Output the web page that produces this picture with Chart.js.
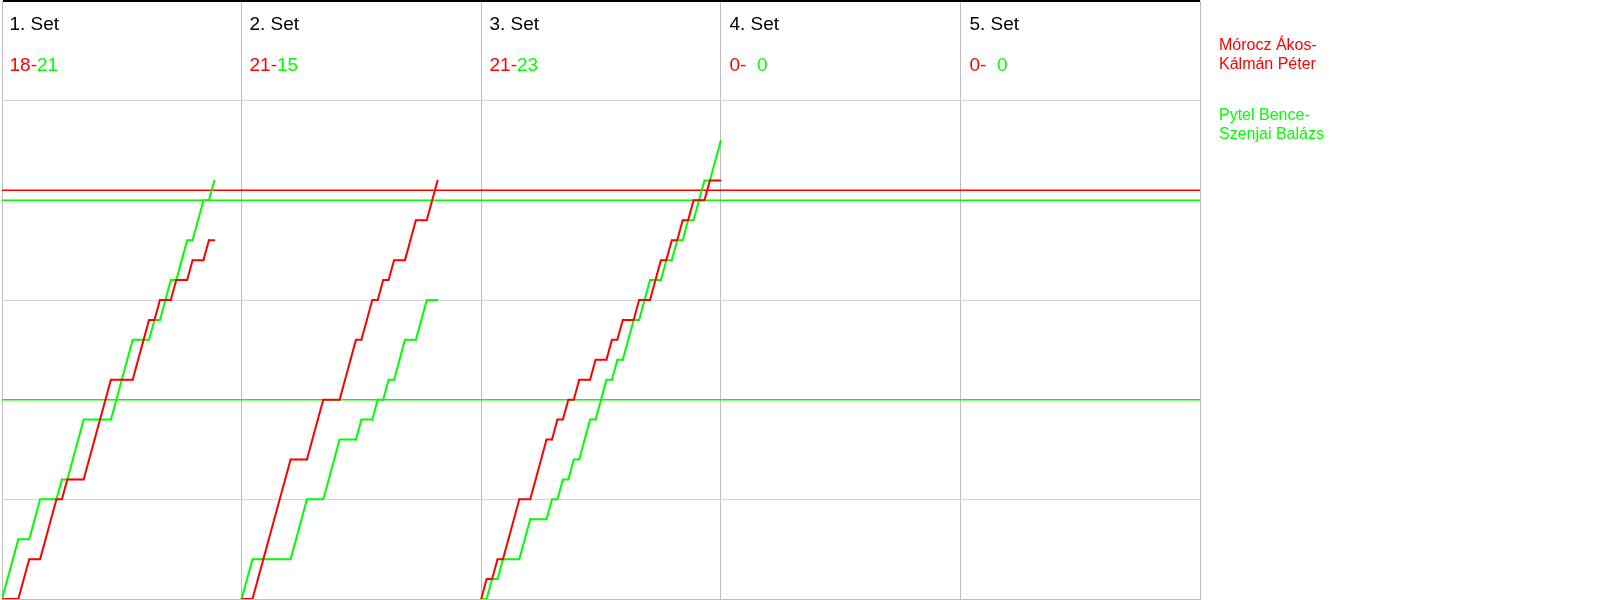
<!DOCTYPE html>
<html>
<head>
<meta charset="utf-8">
<script src="https://cdn.jsdelivr.net/npm/chart.js@4.4.0/dist/chart.umd.min.js"></script>
<style>
  body { margin: 0; background: #fff; }
  #wrap { position: relative; width: 1600px; height: 600px; font-family: "Liberation Sans", Arial, sans-serif; }
  #wrap .lbl { position: absolute; white-space: pre; }
  .num { display: inline-block; width: 2ch; text-align: right; }
</style>
</head>
<body>
<div id="wrap"><canvas id="myChart" width="1600" height="600"></canvas></div>
<script>
// teams, red first, green second
var teamNames = ['Mórocz Ákos-\nKálmán Péter', 'Pytel Bence-\nSzenjai Balázs'];
var teamColors = ['#ff0000', '#00ff00'];
var setLabels = ['1. Set', '2. Set', '3. Set', '4. Set', '5. Set'];
var redFinal = [18, 21, 21, 0, 0];
var greenFinal = [21, 15, 23, 0, 0];
var ralliesPerSet = 44; // width of one set column, in rallies

// score after each rally (index 0 = start of set)
var redSet1 = [0,0,0,0,1,2,2,2,3,4,5,5,6,6,6,6,7,8,9,10,11,11,11,11,11,12,13,14,14,15,15,15,16,16,16,17,17,17,18,18];
var greenSet1 = [0,1,2,3,3,3,4,5,5,5,5,6,6,7,8,9,9,9,9,9,9,10,11,12,13,13,13,13,14,14,15,16,16,17,18,18,19,20,20,21];
var redSet2 = [0,0,0,1,2,3,4,5,6,7,7,7,7,8,9,10,10,10,10,11,12,13,13,14,15,15,16,16,17,17,17,18,19,19,19,20,21];
var greenSet2 = [0,1,2,2,2,2,2,2,2,2,3,4,5,5,5,5,6,7,8,8,8,8,9,9,9,10,10,11,11,12,13,13,13,14,15,15,15];
var redSet3 = [0,1,1,2,2,3,4,5,5,5,6,7,8,8,9,9,10,10,11,11,11,12,12,12,13,13,14,14,14,15,15,15,16,17,17,18,18,19,19,20,20,20,21,21,21];
var greenSet3 = [0,0,1,1,2,2,2,2,3,4,4,4,4,5,5,6,6,7,7,8,9,9,10,11,11,12,12,13,14,14,15,16,16,16,17,17,18,18,19,19,20,21,21,22,23];

// horizontal marker lines
var redMarks = [20.5];
var greenMarks = [20, 10];

var redSets = [redSet1, redSet2, redSet3];
var greenSets = [greenSet1, greenSet2, greenSet3];

function toPoints(scores, set) {
  return scores.map(function(v, i) {
    return {x: set * ralliesPerSet + i, y: v};
  });
}

function lineSet(points, color) {
  return {
    data: points,
    borderColor: color,
    backgroundColor: color,
    borderWidth: 2,
    pointRadius: 1,
    pointStyle: 'rect',
    pointBorderWidth: 0,
    tension: 0
  };
}

var datasets = [];
redSets.forEach(function(s, i) { datasets.push(lineSet(toPoints(s, i), teamColors[0])); });
greenSets.forEach(function(s, i) { datasets.push(lineSet(toPoints(s, i), teamColors[1])); });
redMarks.forEach(function(v) {
  var d = lineSet([{x: 0, y: v}, {x: ralliesPerSet * 5, y: v}], teamColors[0]);
  d.pointRadius = 0;
  d.borderWidth = 1.5;
  datasets.push(d);
});
greenMarks.forEach(function(v) {
  var d = lineSet([{x: 0, y: v}, {x: ralliesPerSet * 5, y: v}], teamColors[1]);
  d.pointRadius = 0;
  d.borderWidth = 1.5;
  datasets.push(d);
});

const config = {
  type: 'line',
  data: {datasets: datasets},
  options: {
    responsive: false,
    animation: false,
    layout: {autoPadding: false, padding: {left: 2, right: 400, top: 1, bottom: 1}},
    plugins: {legend: {display: false}, tooltip: {enabled: false}},
    scales: {
      x: {
        type: 'linear', min: 0, max: ralliesPerSet * 5,
        ticks: {display: false, stepSize: ralliesPerSet},
        grid: {color: '#bdbdbd', drawTicks: false},
        border: {color: '#bdbdbd'},
        afterFit: function(scale) { scale.height = 0; }
      },
      y: {
        min: 0, max: 30,
        ticks: {display: false, stepSize: 5},
        grid: {
          color: function(ctx) { return ctx.tick.value === 30 ? '#000' : '#d4d4d4'; },
          lineWidth: function(ctx) { return ctx.tick.value === 30 ? 2 : 1; },
          drawTicks: false
        },
        border: {color: '#bdbdbd'},
        afterFit: function(scale) { scale.width = 0; }
      }
    }
  }
};

const myChart = new Chart(document.getElementById('myChart'), config);

// set headers and legend as html text
var wrap = document.getElementById('wrap');
var colWidth = 240;
setLabels.forEach(function(label, i) {
  var t = document.createElement('div');
  t.className = 'lbl';
  t.style.cssText = 'left:' + (i * colWidth + 9.5) + 'px;top:14px;font-size:19px;line-height:19px;color:#000';
  t.textContent = label;
  wrap.appendChild(t);

  var s = document.createElement('div');
  s.className = 'lbl';
  s.style.cssText = 'left:' + (i * colWidth + 9.5) + 'px;top:55px;font-size:19px;line-height:19px';
  s.innerHTML = '<span style="color:' + teamColors[0] + '">' + redFinal[i] + '-</span>' +
    '<span class="num" style="color:' + teamColors[1] + '">' + greenFinal[i] + '</span>';
  wrap.appendChild(s);
});
teamNames.forEach(function(name, i) {
  var n = document.createElement('div');
  n.className = 'lbl';
  n.style.cssText = 'left:1219px;top:' + (35 + i * 70) + 'px;font-size:16px;line-height:19px;color:' + teamColors[i];
  n.textContent = name;
  wrap.appendChild(n);
});
</script>
</body>
</html>
